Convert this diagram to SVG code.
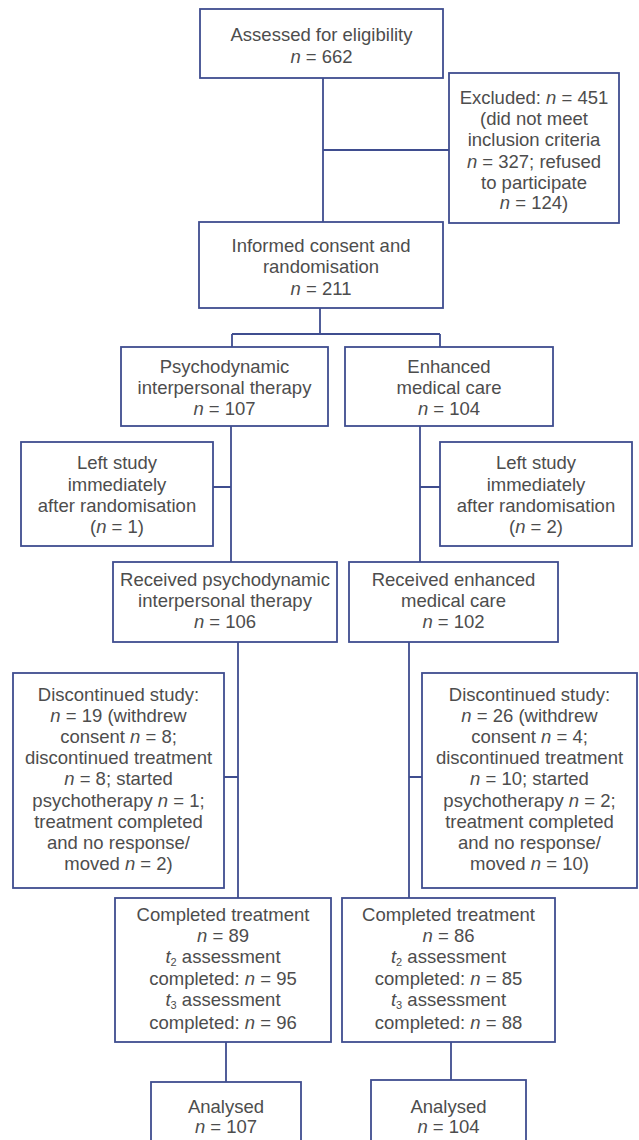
<svg xmlns="http://www.w3.org/2000/svg" width="639" height="1140" viewBox="0 0 639 1140">
<style>
.box{fill:#fff;stroke:#3f4d8f;stroke-width:1.8}
.ln{fill:none;stroke:#3f4d8f;stroke-width:1.8}
text{font-family:"Liberation Sans",Arial,sans-serif;font-size:18.5px;fill:#4d4d4d;text-anchor:middle}
.i{font-style:italic}
.sub{font-size:11px}
</style>
<rect width="639" height="1140" fill="#fff"/>
<g id="connectors">
<path class="ln" d="M323 78V222M323 150H449"/>
<path class="ln" d="M320 308V334M232 334H440M232 334V347M440 334V347"/>
<path class="ln" d="M231 426V562M213 487H231"/>
<path class="ln" d="M420 426V562M420 487H440"/>
<path class="ln" d="M238 642V898M224 777H238"/>
<path class="ln" d="M409 642V898M409 777H422"/>
<path class="ln" d="M226 1042V1082M451 1042V1080"/>
</g>
<g id="assessed">
<rect class="box" x="200" y="9" width="243" height="69"/>
<text x="321.5" y="41">Assessed for eligibility</text>
<text x="321.5" y="63"><tspan class="i">n</tspan> = 662</text>
</g>
<g id="excluded">
<rect class="box" x="449" y="73" width="170" height="150"/>
<text x="534" y="104">Excluded: <tspan class="i">n</tspan> = 451</text>
<text x="534" y="125">(did not meet</text>
<text x="534" y="146">inclusion criteria</text>
<text x="534" y="168"><tspan class="i">n</tspan> = 327; refused</text>
<text x="534" y="189">to participate</text>
<text x="534" y="209"><tspan class="i">n</tspan> = 124)</text>
</g>
<g id="consent">
<rect class="box" x="199" y="222" width="244" height="86"/>
<text x="321" y="252">Informed consent and</text>
<text x="321" y="273">randomisation</text>
<text x="321" y="295"><tspan class="i">n</tspan> = 211</text>
</g>
<g id="pit">
<rect class="box" x="121" y="347" width="207" height="79"/>
<text x="224.5" y="373">Psychodynamic</text>
<text x="224.5" y="394">interpersonal therapy</text>
<text x="224.5" y="415"><tspan class="i">n</tspan> = 107</text>
</g>
<g id="emc">
<rect class="box" x="345" y="347" width="208" height="79"/>
<text x="449" y="373">Enhanced</text>
<text x="449" y="394">medical care</text>
<text x="449" y="415"><tspan class="i">n</tspan> = 104</text>
</g>
<g id="left-pit">
<rect class="box" x="21" y="442" width="192" height="104"/>
<text x="117" y="469">Left study</text>
<text x="117" y="491">immediately</text>
<text x="117" y="512">after randomisation</text>
<text x="117" y="533">(<tspan class="i">n</tspan> = 1)</text>
</g>
<g id="left-emc">
<rect class="box" x="440" y="442" width="192" height="104"/>
<text x="536" y="469">Left study</text>
<text x="536" y="491">immediately</text>
<text x="536" y="512">after randomisation</text>
<text x="536" y="533">(<tspan class="i">n</tspan> = 2)</text>
</g>
<g id="received-pit">
<rect class="box" x="113" y="562" width="224" height="80"/>
<text x="225" y="586">Received psychodynamic</text>
<text x="225" y="607">interpersonal therapy</text>
<text x="225" y="628"><tspan class="i">n</tspan> = 106</text>
</g>
<g id="received-emc">
<rect class="box" x="349" y="562" width="209" height="80"/>
<text x="453.5" y="586">Received enhanced</text>
<text x="453.5" y="607">medical care</text>
<text x="453.5" y="628"><tspan class="i">n</tspan> = 102</text>
</g>
<g id="disc-pit">
<rect class="box" x="13" y="673" width="211" height="215"/>
<text x="118.5" y="701">Discontinued study:</text>
<text x="118.5" y="722"><tspan class="i">n</tspan> = 19 (withdrew</text>
<text x="118.5" y="743">consent <tspan class="i">n</tspan> = 8;</text>
<text x="118.5" y="764">discontinued treatment</text>
<text x="118.5" y="785"><tspan class="i">n</tspan> = 8; started</text>
<text x="118.5" y="807">psychotherapy <tspan class="i">n</tspan> = 1;</text>
<text x="118.5" y="828">treatment completed</text>
<text x="118.5" y="849">and no response/</text>
<text x="118.5" y="870">moved <tspan class="i">n</tspan> = 2)</text>
</g>
<g id="disc-emc">
<rect class="box" x="422" y="673" width="215" height="215"/>
<text x="529.5" y="701">Discontinued study:</text>
<text x="529.5" y="722"><tspan class="i">n</tspan> = 26 (withdrew</text>
<text x="529.5" y="743">consent <tspan class="i">n</tspan> = 4;</text>
<text x="529.5" y="764">discontinued treatment</text>
<text x="529.5" y="785"><tspan class="i">n</tspan> = 10; started</text>
<text x="529.5" y="807">psychotherapy <tspan class="i">n</tspan> = 2;</text>
<text x="529.5" y="828">treatment completed</text>
<text x="529.5" y="849">and no response/</text>
<text x="529.5" y="870">moved <tspan class="i">n</tspan> = 10)</text>
</g>
<g id="completed-pit">
<rect class="box" x="115" y="898" width="216" height="144"/>
<text x="223" y="921">Completed treatment</text>
<text x="223" y="942"><tspan class="i">n</tspan> = 89</text>
<text x="223" y="963"><tspan class="i">t</tspan><tspan class="sub" dy="3">2</tspan><tspan dy="-3"> assessment</tspan></text>
<text x="223" y="985">completed: <tspan class="i">n</tspan> = 95</text>
<text x="223" y="1006"><tspan class="i">t</tspan><tspan class="sub" dy="3">3</tspan><tspan dy="-3"> assessment</tspan></text>
<text x="223" y="1029">completed: <tspan class="i">n</tspan> = 96</text>
</g>
<g id="completed-emc">
<rect class="box" x="342" y="898" width="213" height="144"/>
<text x="448.5" y="921">Completed treatment</text>
<text x="448.5" y="942"><tspan class="i">n</tspan> = 86</text>
<text x="448.5" y="963"><tspan class="i">t</tspan><tspan class="sub" dy="3">2</tspan><tspan dy="-3"> assessment</tspan></text>
<text x="448.5" y="985">completed: <tspan class="i">n</tspan> = 85</text>
<text x="448.5" y="1006"><tspan class="i">t</tspan><tspan class="sub" dy="3">3</tspan><tspan dy="-3"> assessment</tspan></text>
<text x="448.5" y="1029">completed: <tspan class="i">n</tspan> = 88</text>
</g>
<g id="analysed-pit">
<rect class="box" x="151" y="1082" width="150" height="80"/>
<text x="226" y="1113">Analysed</text>
<text x="226" y="1133"><tspan class="i">n</tspan> = 107</text>
</g>
<g id="analysed-emc">
<rect class="box" x="371" y="1080" width="155" height="82"/>
<text x="448.5" y="1113">Analysed</text>
<text x="448.5" y="1133"><tspan class="i">n</tspan> = 104</text>
</g>
</svg>
